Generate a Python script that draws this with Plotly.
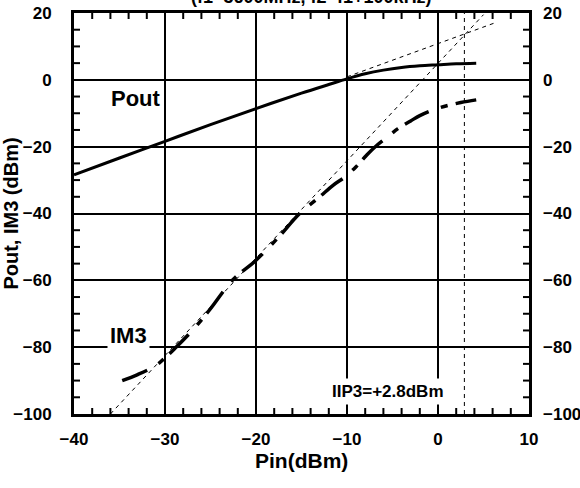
import plotly.graph_objects as go

# ---- data ----
pin_pout = [-40, -35, -30, -25, -20, -15, -12, -10, -8, -6, -4, -2, 0, 2, 4.2]
pout = [-28.4, -23.4, -18.4, -13.4, -8.6, -4.0, -1.4, 0.3, 1.8, 2.9, 3.7, 4.2, 4.5, 4.8, 5.0]

pin_im3 = [-34.7, -33, -31, -30, -29, -27, -25, -22.6, -20, -17.5, -15.2, -13, -11.5,
           -10.2, -9, -7.8, -6.8, -5.5, -4.4, -3, -2, 0, 2.5, 4.2]
im3 = [-90, -88.2, -85.5, -83.2, -80.6, -75, -68.5, -60, -54, -47, -40, -35, -31.5,
       -29, -26, -22.4, -19.8, -17, -14.6, -12.3, -10.7, -8.5, -6.8, -6.0]

ref1_x = [-10, 6.1]        # slope-1 extrapolation of Pout
ref1_y = [0.9, 16.9]
ref3_x = [-36.0, 5.0]      # slope-3 extrapolation of IM3
ref3_y = [-100, 19.5]
iip3_x = [2.9, 2.9]        # IIP3 marker line
iip3_y = [-100, 20]

x_range = [-40, 10]
y_range = [-100, 20]
x_major, x_minor = 10, 2
y_major, y_minor = 20, 5

title_text = "(f1=3600MHz, f2=f1+100kHz)"
x_title = "Pin(dBm)"
y_title = "Pout, IM3 (dBm)"
label_pout = "Pout"
label_im3 = "IM3"
label_iip3 = "IIP3=+2.8dBm"

FONT = "Liberation Sans, Arial, sans-serif"
DASH_THIN = dict(color="black", width=1, dash="4px,4px")

x_minor_vals = [v for v in range(x_range[0], x_range[1] + 1, x_minor) if v % x_major]
y_minor_vals = [v for v in range(y_range[0], y_range[1] + 1, y_minor) if v % y_major]

W, H = 580, 488
M = dict(l=74, r=51, t=13, b=74)
plot_w = W - M["l"] - M["r"]
plot_h = H - M["t"] - M["b"]
TICK_PX = 6

fig = go.Figure()

fig.add_trace(go.Scatter(x=ref3_x, y=ref3_y, mode="lines",
                         line=DASH_THIN, showlegend=False, hoverinfo="skip"))
fig.add_trace(go.Scatter(x=ref1_x, y=ref1_y, mode="lines",
                         line=DASH_THIN, showlegend=False, hoverinfo="skip"))
fig.add_trace(go.Scatter(x=iip3_x, y=iip3_y, mode="lines", yaxis="y2",
                         line=DASH_THIN, showlegend=False, hoverinfo="skip"))
fig.add_trace(go.Scatter(x=pin_pout, y=pout, mode="lines", line_shape="spline",
                         line=dict(color="black", width=3), showlegend=False))
fig.add_trace(go.Scatter(x=pin_im3, y=im3, mode="lines", line_shape="spline",
                         line=dict(color="black", width=3.5, dash="27px,13px,7px,8px"),
                         showlegend=False))

tickfont = dict(family=FONT, size=17, color="black", weight="bold")
axis_base = dict(automargin=False, zeroline=False, tickcolor="black")

fig.update_layout(
    width=W, height=H,
    margin=M,
    paper_bgcolor="white", plot_bgcolor="white",
    xaxis=dict(**axis_base, range=x_range, tickmode="linear", tick0=x_range[0],
               dtick=x_major, showgrid=True, gridcolor="black", gridwidth=2,
               showline=True, linecolor="black", linewidth=3, mirror=True,
               ticks="", tickfont=tickfont, ticklabelstandoff=8),
    yaxis=dict(**axis_base, range=y_range, tickmode="linear", tick0=y_range[0],
               dtick=y_major, showgrid=True, gridcolor="black", gridwidth=2,
               showline=True, linecolor="black", linewidth=3, mirror=True,
               ticks="", tickfont=tickfont, ticklabelstandoff=16,
               title=dict(text=y_title, font=dict(family=FONT, size=20, color="black",
                                                  weight="bold"), standoff=0)),
    yaxis2=dict(**axis_base, range=y_range, tickmode="linear", tick0=y_range[0],
                dtick=y_major, overlaying="y", side="right",
                showgrid=False, showline=False, ticks="",
                tickfont=tickfont, ticklabelstandoff=13),
    showlegend=False,
)

# minor tick marks on all four sides (inside)
tick_line = dict(color="black", width=2)
dy = TICK_PX / plot_h
dx = TICK_PX / plot_w
for v in x_minor_vals:
    fig.add_shape(type="line", xref="x", yref="paper", x0=v, x1=v, y0=0, y1=dy,
                  line=tick_line)
    fig.add_shape(type="line", xref="x", yref="paper", x0=v, x1=v, y0=1, y1=1 - dy,
                  line=tick_line)
for v in y_minor_vals:
    fig.add_shape(type="line", xref="paper", yref="y", y0=v, y1=v, x0=0, x1=dx,
                  line=tick_line)
    fig.add_shape(type="line", xref="paper", yref="y", y0=v, y1=v, x0=1, x1=1 - dx,
                  line=tick_line)

fig.add_annotation(text=title_text, xref="paper", yref="paper", x=0.523, y=1.039,
                   xanchor="center", yanchor="middle", showarrow=False,
                   font=dict(family=FONT, size=18, color="black", weight="bold"))
fig.add_annotation(text=x_title, xref="paper", yref="paper", x=0.5, y=-0.115,
                   xanchor="center", yanchor="middle", showarrow=False,
                   font=dict(family=FONT, size=21, color="black", weight="bold"))
fig.add_annotation(text=label_pout, xref="x", yref="y", x=-33.2, y=-5.7,
                   showarrow=False,
                   font=dict(family=FONT, size=22, color="black", weight="bold"))
fig.add_annotation(text=label_im3, xref="x", yref="y", x=-34.0, y=-76.4,
                   showarrow=False, bgcolor="white", borderpad=2,
                   font=dict(family=FONT, size=22, color="black", weight="bold"))
fig.add_annotation(text=label_iip3, xref="x", yref="y", x=-5.5, y=-93.4,
                   showarrow=False, bgcolor="white", borderpad=3,
                   font=dict(family=FONT, size=17, color="black", weight="bold"))

fig.write_html("out.html")
